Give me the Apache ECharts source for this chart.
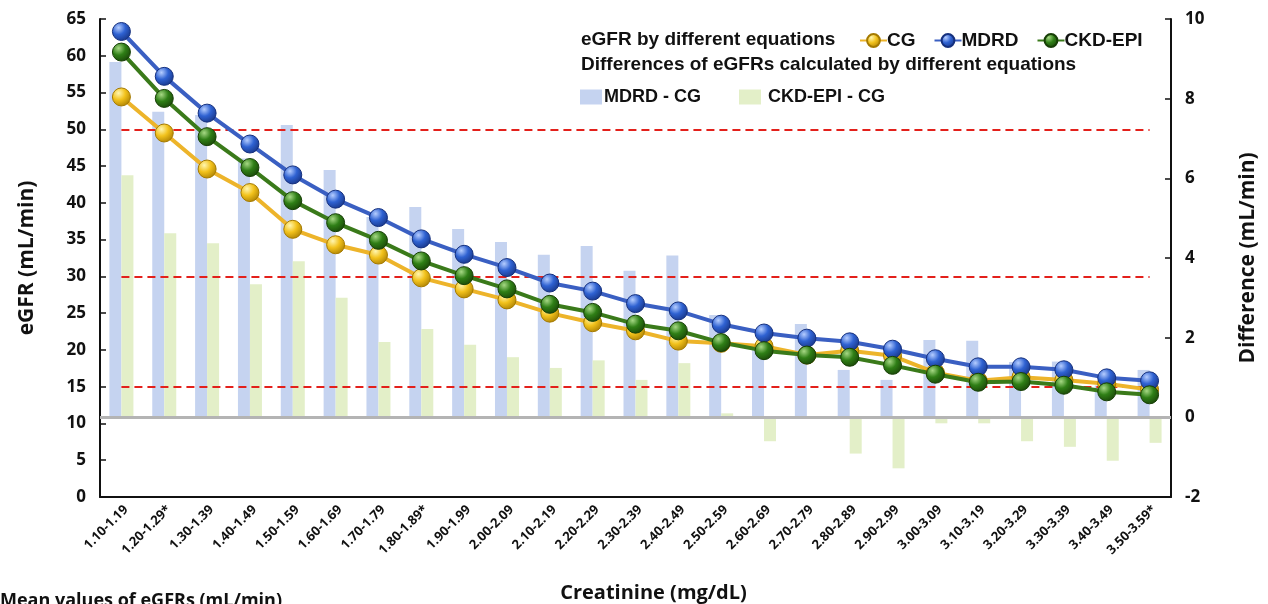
<!DOCTYPE html>
<html>
<head>
<meta charset="utf-8">
<script src="https://cdn.jsdelivr.net/npm/echarts/dist/echarts.min.js"></script>
<style>
  html, body { margin: 0; padding: 0; background: #fff; }
  #main { width: 1268px; height: 604px; }
</style>
</head>
<body>
<div id="main"></div>
<script>
// creatinine ranges (mg/dL)
const categories = ['1.10-1.19', '1.20-1.29*', '1.30-1.39', '1.40-1.49', '1.50-1.59', '1.60-1.69',
  '1.70-1.79', '1.80-1.89*', '1.90-1.99', '2.00-2.09', '2.10-2.19', '2.20-2.29', '2.30-2.39',
  '2.40-2.49', '2.50-2.59', '2.60-2.69', '2.70-2.79', '2.80-2.89', '2.90-2.99', '3.00-3.09',
  '3.10-3.19', '3.20-3.29', '3.30-3.39', '3.40-3.49', '3.50-3.59*'];

// mean eGFR values (mL/min)
const cg = [54.4, 49.5, 44.6, 41.4, 36.4, 34.3, 32.9, 29.8, 28.3, 26.8, 25.0, 23.7, 22.6,
  21.2, 20.9, 20.5, 19.3, 19.9, 19.2, 16.9, 15.8, 16.3, 15.9, 15.4, 14.6];
const mdrd = [63.3, 57.2, 52.2, 48.0, 43.8, 40.5, 38.0, 35.1, 33.0, 31.2, 29.1, 28.0, 26.3,
  25.3, 23.5, 22.3, 21.6, 21.1, 20.1, 18.8, 17.7, 17.7, 17.3, 16.2, 15.8];
const ckdEpi = [60.5, 54.2, 49.0, 44.8, 40.3, 37.3, 34.9, 32.1, 30.1, 28.3, 26.2, 25.1, 23.5,
  22.6, 21.0, 19.9, 19.3, 19.0, 17.9, 16.7, 15.6, 15.7, 15.2, 14.3, 13.9];

// differences (mL/min), right axis
const mdrdMinusCg = [8.92, 7.67, 7.59, 6.50, 7.34, 6.21, 5.03, 5.28, 4.73, 4.40, 4.08, 4.30, 3.68,
  4.06, 2.57, 1.80, 2.34, 1.19, 0.94, 1.94, 1.92, 1.39, 1.40, 0.80, 1.19];
const ckdMinusCg = [6.08, 4.62, 4.37, 3.34, 3.92, 3.00, 1.89, 2.22, 1.82, 1.51, 1.24, 1.43, 0.94,
  1.36, 0.10, -0.60, -0.02, -0.91, -1.28, -0.15, -0.15, -0.60, -0.74, -1.09, -0.64];

// reference levels drawn as dashed lines
const cutoffs = [50, 30, 15];

const tickFont = 'Open Sans';
const legendFont = 'Liberation Sans';

function ball(light, mid, dark) {
  return new echarts.graphic.RadialGradient(0.35, 0.3, 0.8, [
    { offset: 0, color: light },
    { offset: 0.45, color: mid },
    { offset: 1, color: dark }
  ]);
}

function lineSeries(name, data, lineColor, light, mid, dark) {
  return {
    name: name,
    type: 'line',
    data: data,
    yAxisIndex: 0,
    symbol: 'circle',
    symbolSize: 18,
    z: 5,
    lineStyle: { color: lineColor, width: 4 },
    itemStyle: { color: ball(light, mid, dark), borderColor: dark, borderWidth: 1 }
  };
}

const chart = echarts.init(document.getElementById('main'));

const cgSeries = lineSeries('CG', cg, '#edb42a', '#fff6b0', '#f2c21c', '#a57a00');
cgSeries.markLine = {
  silent: true,
  symbol: 'none',
  label: { show: false },
  lineStyle: { color: '#e3201b', width: 2, type: [8, 5] },
  data: cutoffs.map(v => [
    { coord: [categories[0], v] },
    { coord: [categories[categories.length - 1], v] }
  ])
};

const option = {
  backgroundColor: '#ffffff',
  animation: false,
  grid: { left: 100, right: 97, top: 19, bottom: 107, outerBoundsMode: 'none' },
  graphic: [
    {
      type: 'text', left: 581, top: 30,
      style: { text: 'eGFR by different equations', font: 'bold 19px "Liberation Sans"', fill: '#111' }
    },
    {
      type: 'text', left: 581, top: 55,
      style: { text: 'Differences of eGFRs calculated by different equations', font: 'bold 19px "Liberation Sans"', fill: '#111' }
    },
    {
      type: 'text', left: 0, top: 592,
      style: { text: 'Mean values of eGFRs (mL/min)', font: 'bold 18px "Open Sans"', fill: '#111' }
    }
  ],
  legend: [
    {
      data: ['CG', 'MDRD', 'CKD-EPI'],
      left: 854, top: 26,
      itemWidth: 27, itemHeight: 16, itemGap: 18,
      textStyle: { fontFamily: legendFont, fontWeight: 'bold', fontSize: 19, color: '#111', padding: [0, 0, 0, -5] }
    },
    {
      data: ['MDRD - CG', { name: 'CKD-EPI - CG', textStyle: { padding: [0, 0, 0, 2] } }],
      left: 575, top: 83,
      icon: 'rect',
      itemWidth: 22, itemHeight: 15, itemGap: 38,
      textStyle: { fontFamily: legendFont, fontWeight: 'bold', fontSize: 18, color: '#111', padding: [0, 0, 0, -3] }
    }
  ],
  xAxis: {
    type: 'category',
    data: categories,
    name: 'Creatinine (mg/dL)',
    nameLocation: 'middle',
    nameGap: 86,
    nameTextStyle: { fontFamily: tickFont, fontWeight: 'bold', fontSize: 20, color: '#111', padding: [0, 0, 0, 36] },
    axisLine: { onZero: false, lineStyle: { color: '#111', width: 2 } },
    axisTick: { inside: true, length: 6, lineStyle: { color: '#111', width: 1.5 } },
    axisLabel: {
      rotate: 45, interval: 0, margin: 6, verticalAlign: 'top',
      fontFamily: tickFont, fontWeight: 'bold', fontSize: 13, color: '#111'
    }
  },
  yAxis: [
    {
      type: 'value',
      min: 0, max: 65, interval: 5,
      name: 'eGFR (mL/min)',
      nameLocation: 'middle',
      nameRotate: 90,
      nameGap: 62,
      nameTextStyle: { fontFamily: tickFont, fontWeight: 'bold', fontSize: 21, color: '#111' },
      axisLine: { show: true, lineStyle: { color: '#111', width: 2 } },
      axisTick: { show: true, inside: true, length: 6, lineStyle: { color: '#111', width: 1.5 } },
      axisLabel: { fontFamily: tickFont, fontWeight: 'bold', fontSize: 17, color: '#111', margin: 14 },
      splitLine: { show: false }
    },
    {
      type: 'value',
      position: 'right',
      min: -2, max: 10, interval: 2,
      name: 'Difference (mL/min)',
      nameLocation: 'middle',
      nameRotate: 90,
      nameGap: 67,
      nameTextStyle: { fontFamily: tickFont, fontWeight: 'bold', fontSize: 21, color: '#111' },
      axisLine: { show: true, lineStyle: { color: '#111', width: 2 } },
      axisTick: { show: true, inside: true, length: 6, lineStyle: { color: '#111', width: 1.5 } },
      axisLabel: { fontFamily: tickFont, fontWeight: 'bold', fontSize: 17, color: '#111', margin: 14 },
      splitLine: { show: false }
    }
  ],
  series: [
    {
      name: 'MDRD - CG',
      type: 'bar',
      yAxisIndex: 1,
      data: mdrdMinusCg,
      barWidth: 12,
      barGap: '0%',
      z: 1,
      itemStyle: { color: '#c5d3f0' },
      markLine: {
        silent: true,
        symbol: 'none',
        label: { show: false },
        lineStyle: { color: '#b4b4b4', width: 3, type: 'solid' },
        data: [{ yAxis: 0 }]
      }
    },
    {
      name: 'CKD-EPI - CG',
      type: 'bar',
      yAxisIndex: 1,
      data: ckdMinusCg,
      barWidth: 12,
      barGap: '0%',
      z: 1,
      itemStyle: { color: '#e3efc8' }
    },
    cgSeries,
    lineSeries('MDRD', mdrd, '#3a5fc2', '#b5cdff', '#2f62d2', '#15307e'),
    lineSeries('CKD-EPI', ckdEpi, '#3a7a1a', '#a6d884', '#2f7f16', '#173f06')
  ]
};

chart.setOption(option);
</script>
</body>
</html>
